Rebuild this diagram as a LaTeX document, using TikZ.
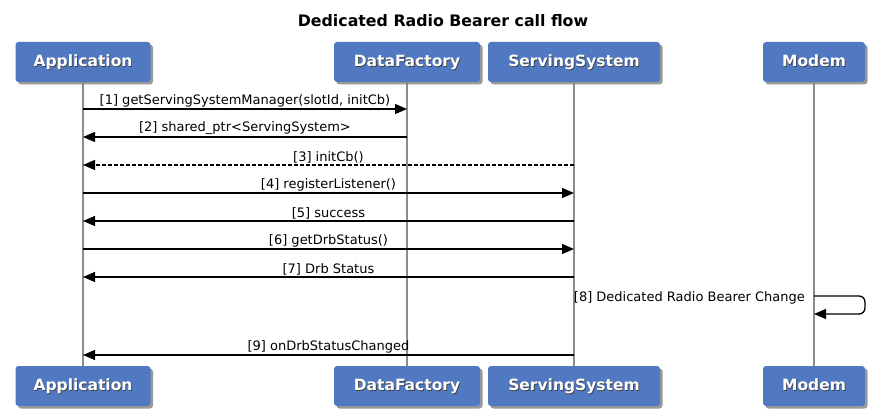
\documentclass[tikz,border=0pt]{standalone}
\usepackage{fontspec}
\setmainfont{DejaVu Sans}
\usetikzlibrary{arrows.meta, positioning, shadows}
\definecolor{partyblue}{RGB}{80,121,193}
\definecolor{lifegray}{RGB}{140,140,140}
\newcommand{\shadowtext}[1]{\makebox[0pt][l]{\hspace{0.8pt}\raisebox{-1pt}{\color{black!75}#1}}#1}

\begin{document}
\begin{tikzpicture}[x=1pt, y=-1pt,
				party/.style={fill=partyblue, rounded corners=3pt, minimum height=40pt, inner sep=0pt, text height=11.5pt, text depth=2pt, text=white, font=\bfseries\fontsize{15.5}{18}\selectfont, drop shadow={shadow xshift=2.5pt, shadow yshift=-2.5pt, opacity=0.4, fill=black}},
				life/.style={lifegray, line width=1.3pt},
				msg/.style={-{Triangle[length=12pt, width=10pt]}, line width=1.3pt},
				lbl/.style={above, inner sep=1.5pt, font=\fontsize{13}{15}\selectfont}
			]
			\useasboundingbox (0,0) rectangle (886,414);

			% Title
			\node[font=\bfseries\fontsize{15.8}{18}\selectfont] (title) at (443,21) {Dedicated Radio Bearer call flow};

			% Participants
			\node[party, minimum width=135pt] (app) at (83,62) {\shadowtext{Application}};
			\node[party, minimum width=146pt] (df) at (407,62) {\shadowtext{DataFactory}};
			\node[party, minimum width=172pt] (ss) at (574,62) {\shadowtext{ServingSystem}};
			\node[party, minimum width=102pt] (mdm) at (814,62) {\shadowtext{Modem}};

			\node[party, minimum width=135pt] (app2) at (83,386) {\shadowtext{Application}};
			\node[party, minimum width=146pt] (df2) at (407,386) {\shadowtext{DataFactory}};
			\node[party, minimum width=172pt] (ss2) at (574,386) {\shadowtext{ServingSystem}};
			\node[party, minimum width=102pt] (mdm2) at (814,386) {\shadowtext{Modem}};

			% Lifelines
			\draw[life] (app) -- (app2);
			\draw[life] (df) -- (df2);
			\draw[life] (ss) -- (ss2);
			\draw[life] (mdm) -- (mdm2);

			% Messages
			\draw[msg] (app |- 0,109) -- node[lbl] {[1] getServingSystemManager(slotId, initCb)} (df |- 0,109);
			\draw[msg] (df |- 0,137) -- node[lbl] {[2] shared\_ptr<ServingSystem>} (app |- 0,137);
			\draw[msg, dashed, dash pattern=on 4pt off 2pt] (ss |- 0,165) -- node[lbl] {[3] initCb()} (app |- 0,165);
			\draw[msg] (app |- 0,193) -- node[lbl] {[4] registerListener()} (ss |- 0,193);
			\draw[msg] (ss |- 0,221) -- node[lbl] {[5] success} (app |- 0,221);
			\draw[msg] (app |- 0,249) -- node[lbl] {[6] getDrbStatus()} (ss |- 0,249);
			\draw[msg] (ss |- 0,277) -- node[lbl] {[7] Drb Status} (app |- 0,277);

			% Self message
			\coordinate (loop) at (865,296);
			\draw[msg, rounded corners=6pt] (mdm |- loop) -- (loop) -- ++(0,18) -- (mdm |- 0,314);
			\node[anchor=base east, inner sep=0pt, font=\fontsize{13}{15}\selectfont] (chg) at (805,301) {[8] Dedicated Radio Bearer Change};

			\draw[msg] (ss |- 0,355) -- node[lbl] {[9] onDrbStatusChanged} (app |- 0,355);

		\end{tikzpicture}
\end{document}
